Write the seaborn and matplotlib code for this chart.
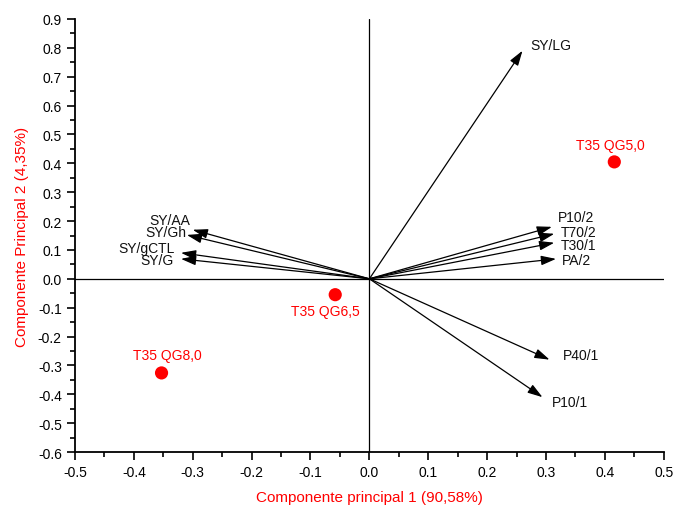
import matplotlib
matplotlib.use("Agg")
import matplotlib.pyplot as plt
from matplotlib.ticker import MultipleLocator
import seaborn as sns
import pandas as pd

# loadings (arrows)
var_names = ["SY/LG", "SY/AA", "SY/Gh", "SY/gCTL", "SY/G",
             "P10/2", "T70/2", "T30/1", "PA/2", "P40/1", "P10/1"]
var_pc1 = [0.26, -0.30, -0.31, -0.32, -0.32, 0.31, 0.314, 0.314, 0.317, 0.306, 0.294]
var_pc2 = [0.79, 0.17, 0.152, 0.09, 0.069, 0.18, 0.156, 0.125, 0.069, -0.28, -0.41]

# scores (red points)
obs_names = ["T35 QG5,0", "T35 QG6,5", "T35 QG8,0"]
obs_pc1 = [0.416, -0.058, -0.353]
obs_pc2 = [0.405, -0.055, -0.326]

x_label = "Componente principal 1 (90,58%)"
y_label = "Componente Principal 2 (4,35%)"

# label placement (offset in points, alignment)
var_label_pos = {
    "SY/LG": ((5.8, 4.3), "left"),
    "SY/AA": ((-1.5, 7), "right"),
    "SY/Gh": ((-0.7, 2), "right"),
    "SY/gCTL": ((-4.7, 3.6), "right"),
    "SY/G": ((-5.4, -0.7), "right"),
    "P10/2": ((4.5, 7), "left"),
    "T70/2": ((5, 1.5), "left"),
    "T30/1": ((5, -1.5), "left"),
    "PA/2": ((4.5, -0.7), "left"),
    "P40/1": ((9.4, 3.6), "left"),
    "P10/1": ((7, -3.6), "left"),
}
obs_label_pos = {
    "T35 QG5,0": (-3, 12),
    "T35 QG6,5": (-7, -12),
    "T35 QG8,0": (4, 13),
}

sns.set_style("ticks")
plt.rcParams["font.family"] = ["Liberation Sans", "DejaVu Sans"]

fig = plt.figure(figsize=(6.78, 5.06), dpi=100)
ax = fig.add_axes([0.1106, 0.1047, 0.979 - 0.1106, 0.9605 - 0.1047])

ax.axhline(0, color="black", lw=0.9, zorder=1)
ax.axvline(0, color="black", lw=0.9, zorder=1)

for name, x, y in zip(var_names, var_pc1, var_pc2):
    ax.annotate("", xy=(x, y), xytext=(0, 0),
                arrowprops=dict(arrowstyle="-|>,head_length=0.5,head_width=0.16",
                                color="black", lw=0.9,
                                mutation_scale=18, shrinkA=0, shrinkB=0))
    off, ha = var_label_pos[name]
    ax.annotate(name, xy=(x, y), xytext=off, textcoords="offset points",
                ha=ha, va="center", fontsize=10, color="#111111")

obs = pd.DataFrame({"pc1": obs_pc1, "pc2": obs_pc2, "name": obs_names})
sns.scatterplot(data=obs, x="pc1", y="pc2", ax=ax, color="red", s=90,
                edgecolor="none", zorder=5)
for name, x, y in zip(obs_names, obs_pc1, obs_pc2):
    off = obs_label_pos[name]
    ax.annotate(name, xy=(x, y), xytext=off, textcoords="offset points",
                ha="center", va="center", fontsize=10, color="red")

ax.set_xlim(-0.5, 0.5)
ax.set_ylim(-0.6, 0.9)
ax.xaxis.set_major_locator(MultipleLocator(0.1))
ax.xaxis.set_minor_locator(MultipleLocator(0.05))
ax.yaxis.set_major_locator(MultipleLocator(0.1))
ax.yaxis.set_minor_locator(MultipleLocator(0.05))
ax.xaxis.set_major_formatter(lambda v, p: f"{v:.1f}".replace("-0.0", "0.0"))
ax.yaxis.set_major_formatter(lambda v, p: f"{v:.1f}".replace("-0.0", "0.0"))
ax.tick_params(which="major", direction="out", length=6, width=1.2,
               labelsize=10, color="black", labelcolor="black")
ax.tick_params(which="minor", direction="out", length=3.5, width=1.2, color="black")

for side in ["top", "right"]:
    ax.spines[side].set_visible(False)
for side in ["left", "bottom"]:
    ax.spines[side].set_linewidth(1.3)
    ax.spines[side].set_color("black")

ax.set_xlabel(x_label, color="red", fontsize=11, labelpad=8)
ax.set_ylabel(y_label, color="red", fontsize=11, labelpad=6)

fig.savefig("out.png", dpi=100)
